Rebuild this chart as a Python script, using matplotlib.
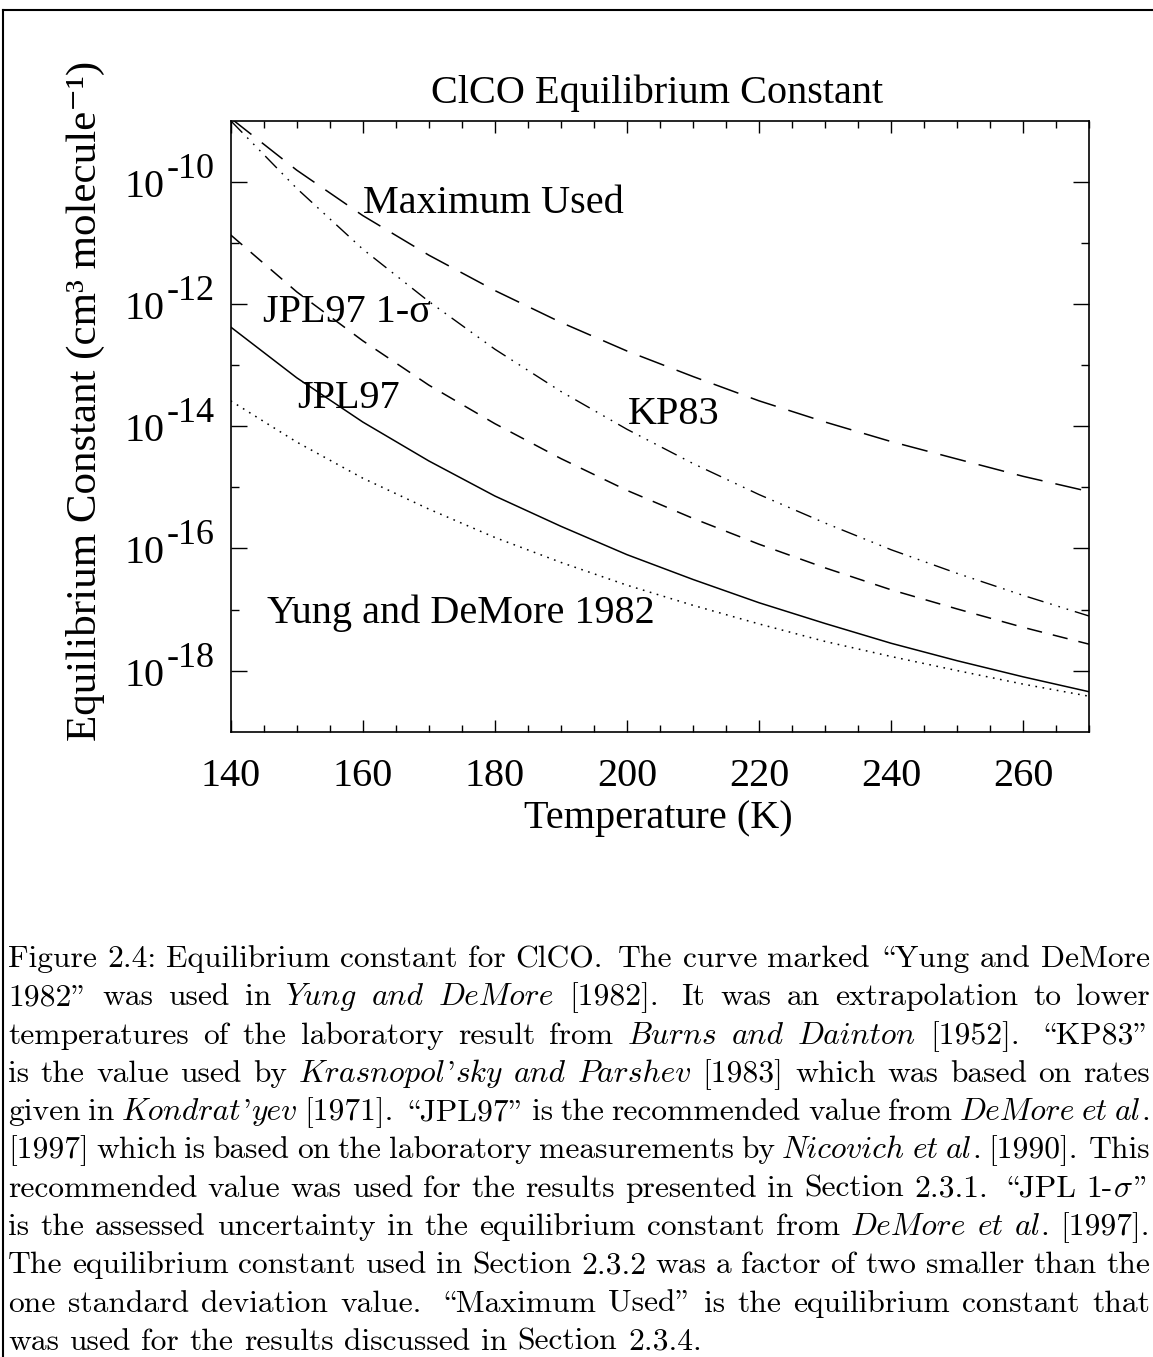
import matplotlib
matplotlib.use("Agg")
import matplotlib.pyplot as plt
import matplotlib.transforms as mtransforms
from matplotlib.lines import Line2D
from matplotlib.ticker import FixedLocator, NullFormatter
import numpy as np

temps = [140, 150, 160, 170, 180, 190, 200, 210, 220, 230, 240, 250, 260, 270]

# equilibrium constant, cm^3 molecule^-1
max_used = [1.1e-9, 1.55e-10, 2.8e-11, 6.3e-12, 1.66e-12, 5.0e-13, 1.70e-13,
            6.5e-14, 2.6e-14, 1.17e-14, 5.6e-15, 2.9e-15, 1.51e-15, 8.5e-16]
kp83 = [1.0e-9, 7.8e-11, 7.9e-12, 1.10e-12, 1.82e-13, 3.7e-14, 8.9e-15,
        2.45e-15, 7.6e-16, 2.6e-16, 9.5e-17, 3.9e-17, 1.70e-17, 7.8e-18]
jpl97_sigma = [1.35e-11, 1.58e-12, 2.5e-13, 4.7e-14, 1.10e-14, 2.95e-15, 8.9e-16,
               3.1e-16, 1.17e-16, 4.8e-17, 2.1e-17, 1.02e-17, 5.1e-18, 2.7e-18]
jpl97 = [4.2e-13, 6.2e-14, 1.17e-14, 2.7e-15, 7.2e-16, 2.3e-16, 7.9e-17,
         3.1e-17, 1.29e-17, 5.9e-18, 2.8e-18, 1.45e-18, 7.9e-19, 4.5e-19]
yung_demore = [2.6e-14, 5.5e-15, 1.41e-15, 4.4e-16, 1.51e-16, 5.9e-17, 2.5e-17,
               1.17e-17, 5.8e-18, 3.0e-18, 1.7e-18, 1.0e-18, 6.0e-19, 3.8e-19]

x_ticks = [140, 160, 180, 200, 220, 240, 260]
y_exponents = [-10, -12, -14, -16, -18]

caption_lines = [
    "Figure 2.4: Equilibrium constant for ClCO. The curve marked “Yung and DeMore",
    "1982” was used in *Yung and DeMore* [1982]. It was an extrapolation to lower",
    "temperatures of the laboratory result from *Burns and Dainton* [1952]. “KP83”",
    "is the value used by *Krasnopol’sky and Parshev* [1983] which was based on rates",
    "given in *Kondrat’yev* [1971]. “JPL97” is the recommended value from *DeMore et al.*",
    "[1997] which is based on the laboratory measurements by *Nicovich et al.* [1990]. This",
    "recommended value was used for the results presented in Section 2.3.1. “JPL 1-σ”",
    "is the assessed uncertainty in the equilibrium constant from *DeMore et al.* [1997].",
    "The equilibrium constant used in Section 2.3.2 was a factor of two smaller than the",
    "one standard deviation value. “Maximum Used” is the equilibrium constant that",
    "was used for the results discussed in Section 2.3.4.",
]

plt.rcParams['font.family'] = ['Liberation Serif', 'DejaVu Serif']
plt.rcParams['lines.scale_dashes'] = False

W, H = 1153, 1357
FS = 29
fig = plt.figure(figsize=(W / 100, H / 100), dpi=100)
renderer = fig.canvas.get_renderer()

# page frame (top and left rules)
fig.add_artist(Line2D([3 / W, 1], [1 - 10 / H, 1 - 10 / H], color='black', lw=1.5))
fig.add_artist(Line2D([3 / W, 3 / W], [0, 1 - 10 / H], color='black', lw=1.5))

ax = fig.add_axes([230.7 / W, 1 - 731.7 / H, 858.6 / W, 611 / H])
ax.set_yscale('log')
ax.set_xlim(140, 270)
ax.set_ylim(1e-19, 1e-9)

ax.plot(temps, max_used, color='black', lw=1.1, dashes=(19, 9.5))
ax.plot(temps, kp83, color='black', lw=1.0, dashes=(12, 5, 1.2, 5, 1.2, 5, 1.2, 5))
ax.plot(temps, jpl97_sigma, color='black', lw=1.1, dashes=(11, 8))
ax.plot(temps, jpl97, color='black', lw=1.1)
ax.plot(temps, yung_demore, color='black', lw=1.1, dashes=(1.2, 4.0))

ax.text(160.0, 3.1e-11, 'Maximum Used', fontsize=FS, va='baseline')
ax.text(144.9, 5.1e-13, 'JPL97 1-σ', fontsize=FS, va='baseline')
ax.text(150.0, 2.0e-14, 'JPL97', fontsize=FS, va='baseline')
ax.text(200.2, 1.1e-14, 'KP83', fontsize=FS, va='baseline')
ax.text(145.5, 6.0e-18, 'Yung and DeMore 1982', fontsize=FS, va='baseline')

# ticks, IDL style: inward on all four sides
ax.xaxis.set_major_locator(FixedLocator(x_ticks))
ax.xaxis.set_minor_locator(FixedLocator(np.arange(140, 271, 5)))
ax.yaxis.set_major_locator(FixedLocator([10.0 ** e for e in y_exponents]))
ax.yaxis.set_minor_locator(FixedLocator([10.0 ** (e - 1) for e in y_exponents[:-1]]))
for axis in (ax.xaxis, ax.yaxis):
    axis.set_major_formatter(NullFormatter())
    axis.set_minor_formatter(NullFormatter())
ax.tick_params(which='both', direction='in', top=True, right=True, width=1.0)
ax.tick_params(axis='x', which='major', length=8.6)
ax.tick_params(axis='x', which='minor', length=5.0)
ax.tick_params(axis='y', which='major', length=11.5)
ax.tick_params(axis='y', which='minor', length=5.8)
for sp in ax.spines.values():
    sp.set_linewidth(1.2)

# tick labels
xlab_tr = mtransforms.blended_transform_factory(ax.transData, fig.transFigure)
for v in x_ticks:
    ax.text(v, 1 - 786 / H, str(v), transform=xlab_tr, ha='center', va='baseline', fontsize=FS)

ylab_tr = mtransforms.blended_transform_factory(fig.transFigure, ax.transData)
main_tr = ylab_tr + mtransforms.ScaledTranslation(0, -15 / 100, fig.dpi_scale_trans)
sup_tr = ylab_tr + mtransforms.ScaledTranslation(0, 4 / 100, fig.dpi_scale_trans)
for e in y_exponents:
    ax.text(165 / W, 10.0 ** e, '10', transform=main_tr, ha='right', va='baseline', fontsize=FS)
    ax.text(167 / W, 10.0 ** e, '-%d' % abs(e), transform=sup_tr, ha='left', va='baseline',
            fontsize=26)

fig.text(657 / W, 1 - 103 / H, 'ClCO Equilibrium Constant', ha='center', va='baseline', fontsize=FS)
fig.text(658.5 / W, 1 - 828 / H, 'Temperature (K)', ha='center', va='baseline', fontsize=FS)
fig.text(85 / W, 1 - 401 / H, 'Equilibrium Constant (cm³ molecule⁻¹)',
         rotation=90, ha='center', va='center', fontsize=31)

# caption, set word by word and justified like the LaTeX original
CAP_FS = 22.7
QUOTES = {'“': '\\', '”': '"', '’': "'"}


def split_pieces(word, italic):
    out = []
    for ch in word:
        if ch == '*':
            italic = not italic
            continue
        if ch == 'σ':
            kind = 'm'
        elif italic and ch.isalpha():
            kind = 'i'
        else:
            kind = 'r'
        if out and out[-1][0] == kind and kind != 'm':
            out[-1][1] += ch
        else:
            out.append([kind, ch])
    return out, italic


def make_piece(kind, s):
    if kind == 'r':
        return fig.text(0, 0, ''.join(QUOTES.get(c, c) for c in s), family='cmr10',
                        fontsize=CAP_FS, va='baseline')
    if kind == 'i':
        return fig.text(0, 0, s, family='cmmi10', fontsize=CAP_FS, va='baseline')
    return fig.text(0, 0, r'$\sigma$', math_fontfamily='cm', fontsize=CAP_FS, va='baseline')


def piece_gap(prev, cur):
    # full stop right after italic letters sits tight against them
    if prev[0] == 'i' and cur[0] == 'r' and cur[1].startswith('.'):
        return 0.0
    return 0.8


x0, x1 = 8, 1150
for i, line in enumerate(caption_lines):
    base_y = 967 + i * 38.3
    words = []
    italic = False
    for w in line.split(' '):
        parts, italic = split_pieces(w, italic)
        texts = [make_piece(k, s) for k, s in parts]
        widths = [t.get_window_extent(renderer).width for t in texts]
        gaps = [piece_gap(parts[k - 1], parts[k]) for k in range(1, len(parts))]
        words.append((w.replace('*', ''), texts, widths, gaps))
    word_w = [sum(ws) + sum(gs) for _, _, ws, gs in words]
    if i < len(caption_lines) - 1:
        weights = [1.5 if (w.endswith('.') and not w.endswith('al.')) else 1.0
                   for w, _, _, _ in words[:-1]]
        gap = (x1 - x0 - sum(word_w)) / sum(weights)
    else:
        weights = [1.0] * (len(words) - 1)
        gap = 0.333 * CAP_FS * 100 / 72
    x = x0
    for j, (w, texts, ws, gs) in enumerate(words):
        xx = x
        for k, (t, wd) in enumerate(zip(texts, ws)):
            t.set_position((xx / W, 1 - base_y / H))
            xx += wd + (gs[k] if k < len(gs) else 0)
        if j < len(weights):
            x += word_w[j] + gap * weights[j]

fig.savefig('out.png', dpi=100)
